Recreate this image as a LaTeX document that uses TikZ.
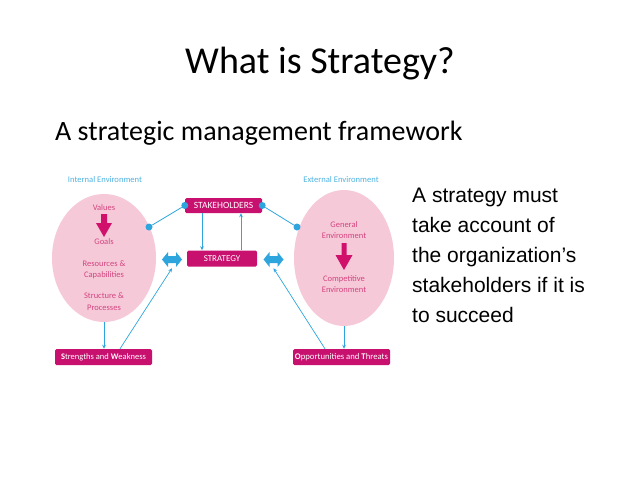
\documentclass[tikz,border=0pt]{standalone}
\usepackage{fontspec}
\setmainfont{Carlito}
\newfontfamily\arialf{Liberation Sans}
\usetikzlibrary{arrows.meta,shapes.geometric}
\definecolor{boxm}{HTML}{C8106E}
\definecolor{ellp}{HTML}{F6C9D9}
\definecolor{lblue}{HTML}{2EA6DD}
\definecolor{elltxt}{HTML}{D2447E}
\definecolor{headb}{HTML}{4FB3E2}
\definecolor{arrm}{HTML}{D0106A}
\begin{document}
\begin{tikzpicture}[x=1pt,y=-1pt,
  mbox/.style={fill=boxm, rounded corners=1.5pt, text=white, inner sep=0pt, align=center},
  ellbox/.style={ellipse, fill=ellp, inner sep=0pt},
  etxt/.style={text=elltxt, font=\fontsize{8.5}{10}\selectfont, inner sep=0pt},
  htxt/.style={text=headb, font=\fontsize{8.6}{10}\selectfont, inner sep=0pt},
  conn/.style={draw=lblue, line width=0.7pt, -{Stealth[length=4pt,width=3.6pt]}},
  dotn/.style={circle, fill=lblue, minimum size=7pt, inner sep=0pt},
  rline/.style={anchor=base west, inner sep=0pt, font=\arialf\fontsize{21}{30}\selectfont},
  dbl/.style={minimum width=20pt, minimum height=15pt, inner sep=0pt}
]
\useasboundingbox (0,0) rectangle (638,479);
\fill[white] (0,0) rectangle (638,479);

% titles
\node[anchor=base, inner sep=0pt, font=\fontsize{38}{40}\selectfont] (title) at (320,73) {What is Strategy?};
\node[anchor=base west, inner sep=0pt, font=\fontsize{28}{30}\selectfont] (sub) at (55,140) {A strategic management framework};

% right text
\node[rline] (r1) at (412,202) {A strategy must};
\node[rline] (r2) at (412,232) {take account of};
\node[rline] (r3) at (412,262) {the organization’s};
\node[rline] (r4) at (412,292) {stakeholders if it is};
\node[rline] (r5) at (412,322) {to succeed};

% headings
\node[htxt] (ie) at (105,180) {Internal Environment};
\node[htxt] (ee) at (341,180) {External Environment};

% ellipses
\node[ellbox, minimum width=104pt, minimum height=128pt] (le) at (104,258) {};
\node[ellbox, minimum width=100pt, minimum height=136pt] (re) at (344,258) {};

% left ellipse content
\node[etxt] (val) at (104,208) {Values};
\fill[arrm] (101,214) -- (107,214) -- (107,223) -- (112,223) -- (104,237) -- (96,223) -- (101,223) -- cycle;
\node[etxt] (goals) at (104,242) {Goals};
\node[etxt] (res) at (104,264) {Resources \&};
\node[etxt] (cap) at (104,275) {Capabilities};
\node[etxt] (str2) at (104,296) {Structure \&};
\node[etxt] (proc) at (104,308) {Processes};

% right ellipse content
\node[etxt] (gen) at (344,225) {General};
\node[etxt] (genv) at (344,236) {Environment};
\fill[arrm] (341.5,243) -- (346.5,243) -- (346.5,255) -- (352.5,255) -- (344,270) -- (335.5,255) -- (341.5,255) -- cycle;
\node[etxt] (comp) at (344,279) {Competitive};
\node[etxt] (cenv) at (344,290) {Environment};

% boxes
\node[mbox, minimum width=77pt, minimum height=15pt, font=\fontsize{9.5}{10}\selectfont] (stk) at (223.5,205.5) {STAKEHOLDERS};
\node[mbox, minimum width=70pt, minimum height=16pt, font=\fontsize{9}{10}\selectfont] (str) at (222,258.5) {STRATEGY};
\node[mbox, minimum width=97pt, minimum height=16pt, font=\fontsize{8.5}{10}\selectfont] (sw) at (103.5,357) {\textbf{S}trengths and \textbf{W}eakness};
\node[mbox, minimum width=97pt, minimum height=16pt, font=\fontsize{8.7}{10}\selectfont] (ot) at (341.5,357) {\textbf{O}pportunities and \textbf{T}hreats};

% double arrows
\node[dbl] (dl) at (172,259.5) {};
\node[dbl] (dr) at (273.5,259.5) {};
\fill[lblue, shift={(172,259.5)}] (-10,0) -- (-4,-7.5) -- (-4,-3.5) -- (4,-3.5) -- (4,-7.5) -- (10,0) -- (4,7.5) -- (4,3.5) -- (-4,3.5) -- (-4,7.5) -- cycle;
\fill[lblue, shift={(273.5,259.5)}] (-10,0) -- (-4,-7.5) -- (-4,-3.5) -- (4,-3.5) -- (4,-7.5) -- (10,0) -- (4,7.5) -- (4,3.5) -- (-4,3.5) -- (-4,7.5) -- cycle;

% dots and lines
\node[dotn] (d1) at (stk.west) {};
\node[dotn] (d2) at (stk.east) {};
\node[dotn] (d3) at (149,227) {};
\node[dotn] (d4) at (297,227) {};
\draw[lblue, line width=0.8pt] (d1) -- (d3);
\draw[lblue, line width=0.8pt] (d2) -- (d4);

% connectors
\draw[conn] (le.south) -- (le.south |- sw.north);
\draw[conn] (re.south) -- (re.south |- ot.north);
\coordinate (a1) at ([xshift=-21.5pt]stk.south);
\coordinate (a2) at ([xshift=17.5pt]stk.south);
\draw[conn] (a1) -- (a1 |- str.north);
\draw[conn] (a2 |- str.north) -- (a2);
\coordinate (b1) at ([xshift=16.5pt]sw.north);
\coordinate (b2) at ([xshift=-16.5pt]ot.north);
\draw[conn] (b1) -- ([yshift=-1pt]dl.south);
\draw[conn] (b2) -- ([yshift=-1pt]dr.south);
\end{tikzpicture}
\end{document}
